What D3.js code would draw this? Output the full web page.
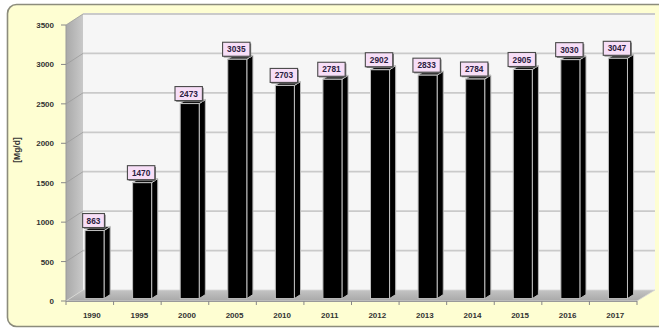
<!DOCTYPE html>
<html><head><meta charset="utf-8">
<script src="https://cdn.jsdelivr.net/npm/d3@7"></script>
<style>body{margin:0;background:#fff}svg{display:block}</style>
</head><body>
<svg id="c" width="659" height="330"></svg>
<script>
const years = ["1990","1995","2000","2005","2010","2011","2012","2013","2014","2015","2016","2017"];
const values = [863,1470,2473,3035,2703,2781,2902,2833,2784,2905,3030,3047];
const yTicks = [0,500,1000,1500,2000,2500,3000,3500];
const yTitle = "[Mg/d]";

const svg = d3.select("#c");
const DX = 17, DY = -11;
const x = d3.scaleBand().domain(years).range([66, 637]).paddingInner(0).paddingOuter(0);
const y = d3.scaleLinear().domain([0, 3500]).range([301, 25]);

const defs = svg.append("defs");
const lg = defs.append("linearGradient").attr("id","wall").attr("x1","0").attr("x2","1").attr("y1","0").attr("y2","0");
lg.append("stop").attr("offset","0").attr("stop-color","#a9a9a9");
lg.append("stop").attr("offset","1").attr("stop-color","#c9c9c9");
const fg = defs.append("linearGradient").attr("id","floor").attr("x1","0").attr("x2","0").attr("y1","0").attr("y2","1");
fg.append("stop").attr("offset","0").attr("stop-color","#c4c4c4");
fg.append("stop").attr("offset","1").attr("stop-color","#a8a8a8");

// outer panel
svg.append("rect").attr("x",7.5).attr("y",4.5).attr("width",664).attr("height",322)
  .attr("rx",9).attr("fill","#fefed2").attr("stroke","#8c8c7c").attr("stroke-width",1.6);

const x0 = x.range()[0], x1 = x.range()[1];
const yTop = y(3500), yBot = y(0);
const poly = pts => pts.map(p => p.join(",")).join(" ");

// back wall
svg.append("polygon").attr("points", poly([[x0+DX,yTop+DY],[x1+DX+1,yTop+DY],[x1+DX+1,yBot+DY],[x0+DX,yBot+DY]]))
  .attr("fill","#f6f6f6");
// left wall
svg.append("polygon").attr("points", poly([[x0,yTop],[x0+DX,yTop+DY],[x0+DX,yBot+DY],[x0,yBot]]))
  .attr("fill","url(#wall)");
// gridlines
yTicks.filter(t => t > 0).forEach(t => {
  svg.append("line").attr("x1",x0+DX).attr("x2",x1+DX+1).attr("y1",y(t)+DY).attr("y2",y(t)+DY)
    .attr("stroke","#cacaca").attr("stroke-width",1.8);
  svg.append("line").attr("x1",x0).attr("x2",x0+DX).attr("y1",y(t)).attr("y2",y(t)+DY)
    .attr("stroke","#9a9a9a").attr("stroke-width",0.8);
});
// floor
svg.append("polygon").attr("points", poly([[x0,yBot],[x0+DX,yBot+DY],[x1+DX+1,yBot+DY],[x1,yBot]]))
  .attr("fill","url(#floor)").attr("stroke","#d8d8d8").attr("stroke-width",0.8);
svg.append("line").attr("x1",x0).attr("x2",x1).attr("y1",yBot+0.5).attr("y2",yBot+0.5)
  .attr("stroke","#9a9a9a").attr("stroke-width",1);
svg.append("line").attr("x1",x0).attr("x2",x0).attr("y1",yTop).attr("y2",yBot)
  .attr("stroke","#9a9a9a").attr("stroke-width",1);

// y ticks and labels
yTicks.forEach(t => {
  svg.append("line").attr("x1",x0-5).attr("x2",x0).attr("y1",y(t)).attr("y2",y(t)).attr("stroke","#888").attr("stroke-width",1);
  svg.append("text").attr("x",54).attr("y",y(t)+3).attr("text-anchor","end")
    .attr("font-family","Liberation Sans, Arial, sans-serif").attr("font-size",8).attr("font-weight","bold")
    .attr("fill","#333").text(t);
});
// x ticks and labels
years.forEach((c,i) => {
  const bx = x(c);
  svg.append("line").attr("x1",bx+x.bandwidth()).attr("x2",bx+x.bandwidth()).attr("y1",yBot).attr("y2",yBot+4).attr("stroke","#888");
  svg.append("text").attr("x",bx + x.bandwidth()/2 + 2).attr("y",318).attr("text-anchor","middle")
    .attr("font-family","Liberation Sans, Arial, sans-serif").attr("font-size",8).attr("font-weight","bold")
    .attr("fill","#333").text(c);
});
svg.append("line").attr("x1",x0).attr("x2",x0).attr("y1",yBot).attr("y2",yBot+4).attr("stroke","#888");

// y title
svg.append("text").attr("transform","translate(20,150) rotate(-90)").attr("text-anchor","middle")
  .attr("font-family","Liberation Sans, Arial, sans-serif").attr("font-size",8.5).attr("font-weight","bold")
  .attr("fill","#333").text(yTitle);

// bars
const f0 = 0.22, f1 = 0.58;
const bw = x.bandwidth()*0.40;
years.forEach((c,i) => {
  const v = values[i];
  const cx = x(c) + x.bandwidth()/2;
  const fx = cx - bw/2 + DX*f0 + 1;
  const fyB = yBot + DY*f0, fyT = y(v) + DY*f0;
  const ddx = DX*(f1-f0), ddy = DY*(f1-f0);
  const g = svg.append("g");
  g.append("polygon").attr("points", poly([[fx+bw,fyT],[fx+bw+ddx,fyT+ddy],[fx+bw+ddx,fyB+ddy],[fx+bw,fyB]]))
    .attr("fill","#000").attr("stroke","#b8b8b8").attr("stroke-width",1);
  g.append("polygon").attr("points", poly([[fx,fyT],[fx+ddx,fyT+ddy],[fx+bw+ddx,fyT+ddy],[fx+bw,fyT]]))
    .attr("fill","#111").attr("stroke","#c8c8c8").attr("stroke-width",1);
  g.append("rect").attr("x",fx).attr("y",fyT).attr("width",bw).attr("height",fyB-fyT)
    .attr("fill","#000").attr("stroke","#c0c0c0").attr("stroke-width",1);
  const txt = String(v);
  const w = txt.length*5.6 + 5;
  const lx = fx + bw/2 - 1;
  const lyB = fyT - 3;
  const h = 14;
  g.append("rect").attr("x",lx - w/2 + 1.2).attr("y",lyB - h + 1.2).attr("width",w).attr("height",h)
    .attr("fill","#777");
  g.append("rect").attr("x",lx - w/2).attr("y",lyB - h).attr("width",w).attr("height",h)
    .attr("fill","#f7def7").attr("stroke","#4a4a4a").attr("stroke-width",1.1);
  g.append("text").attr("x",lx).attr("y",lyB-4).attr("text-anchor","middle")
    .attr("font-family","Liberation Sans, Arial, sans-serif").attr("font-size",8.3).attr("font-weight","bold")
    .attr("fill","#2a2040").text(txt);
});
</script>
</body></html>
